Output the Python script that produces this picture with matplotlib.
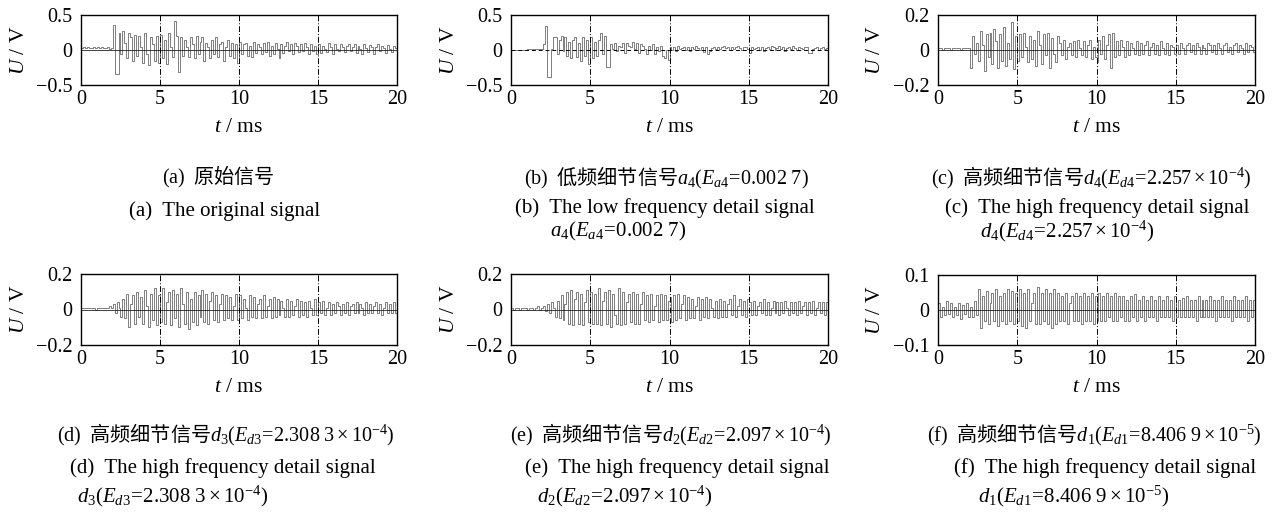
import numpy as np
import matplotlib
matplotlib.use("Agg")
import matplotlib.pyplot as plt

plt.rcParams["font.family"] = ["Liberation Serif", "Noto Sans CJK SC"]
plt.rcParams["mathtext.fontset"] = "custom"
plt.rcParams["mathtext.rm"] = "Liberation Serif"
plt.rcParams["mathtext.it"] = "Liberation Serif:italic"
plt.rcParams["axes.unicode_minus"] = True

# sampling step of the traces (ms)
step_ms = 0.125
x_ticks = [0, 5, 10, 15, 20]

# signal values in units of 0.01 V, one value per 0.125 ms (0..20 ms)
sig_a = [3, 4, 3, 4, 3, 3, 4, 3, 4, 3, 4, 3, 3, 4, 2, 3,
         36, -34, -34, 25, -5, 27, 10, -12, 25, 18, -15, 22, -8, 20, 5, -18, 24, -5, -22, 18, 8, -15, 20, -18,
         22, -12, 15, -20, 25, 5, -10, 42, 20, -32, 18, -8, 15, 5, -10, 18, 8, -12, 20, -6,
         12, 18, -15, 10, 5, -12, 15, -5, 18, -10, 8, 12, -15, 5, 15, -8, 10, -12, 8, -18,
         12, -5, 8, 10, -8, 6, -10, 12, -4, 8, 5, -6, 10, -3, 12, -8, 6, -5, 10, 2,
         -12, 8, -4, 6, 12, -2, 8, -5, 10, 6, -3, 8, -2, 10, 4, -5, 8, -2, 6, -5,
         8, -4, 6, 2, -3, 10, 4, -6, 8, 2, -2, 9, 5, -3, 6, 8, -2, 4, 9, -4,
         6, 2, -6, 8, 3, -3, 7, 5, -6, 4, 8, -2, 6, 3, -4, 7, 2, -3, 6, 3]
sig_b = [0, 0, 0, 0, 0, 0, 0, 0, 1, 1, 2, 2, 1, 1, 2, 2,
         8, 35, -38, -38, 2, 18, 18, -5, 15, 20, -2, 18, -8, 12, -12, 15, 18, -10, 10, -15, 18, -8, 15, -20,
         18, -12, 12, -8, 14, 24, -5, 20, -24, -24, 8, 2, 10, -2, 6, 4, 10, -4, 10, 6,
         4, 12, 2, 10, -4, 8, 6, 2, -6, 6, 0, 8, -6, 4, -2, 6, -8, -12, 0, -14,
         4, 0, 5, -2, 6, 2, 3, 5, 0, 4, -2, 4, 2, 6, 3, 0, 5, -3, 4, -5,
         -1, 3, 5, 1, 4, 2, 5, 6, 3, 4, 0, 5, 2, 4, 6, 3, 0, 4, 5, 2,
         -4, 4, 2, 3, 5, 0, 4, -2, 3, 5, 2, 6, 4, 0, 3, 6, 2, 4, -2, 3,
         5, 2, 6, 3, 0, 4, 3, 2, 4, 5, -4, -4, 2, 3, 4, 0, 3, 4, 2, 3]
sig_c = [1, 1, 0, 1, 1, 1, 0, 1, 1, 1, 1, 0, 1, 1, 1, 1,
         -10, 8, -2, 4, -6, 11, 3, -12, 9, -4, 10, -8, 12, 5, -10, 9, -6, 13, -9, 4, -5, 16, -11, 8,
         -6, 9, -4, 10, 2, -7, 8, -5, 6, -9, 11, 3, -8, 9, -3, 10, -10, 7, -2, -7,
         8, 4, -3, 6, -5, 2, 4, -3, 5, -4, 6, 1, -3, 5, -4, 3, 6, -5, 2, -4,
         -7, 6, -2, 8, -5, 3, 9, -10, 10, -4, 5, -3, 6, 2, -4, 5, -3, 4, 1, -2,
         5, -3, 4, -2, 3, 5, -3, 2, 4, -2, 3, -3, 5, 1, -2, 4, -3, 3, 2, -2,
         3, -2, 4, 1, -2, 3, 4, -1, 3, -2, 4, 2, -2, 3, 1, -2, 4, 3, -1, 3,
         -2, 4, 1, -2, 3, 4, -1, 2, -2, 3, 4, -1, 3, 1, -2, 4, -1, 3, 2, -1]
sig_d = [1, 1, 1, 1, 1, 1, 1, 0, 1, 1, 1, 1, 1, 1, 2, 1,
         3, -2, 4, 1, -4, 6, -5, 9, -10, 3, 8, -8, 10, -4, 7, -8, 11, 2, -10, 9, -6, 12, -9, 8,
         -7, 12, -8, 4, 10, -9, 11, -5, 9, -10, 12, 3, -8, 10, -11, 6, -7, 10, -9, 8,
         -4, 11, -7, 9, -8, 5, 10, -6, 8, -7, 3, 9, -6, 8, -5, 7, -6, 2, 9, -6,
         8, -5, 6, 1, -6, 8, -4, 7, -5, 3, 6, -5, 8, -4, 2, 6, -5, 7, -4, 6,
         -3, 5, 1, -4, 6, -4, 5, -3, 2, 6, -4, 5, -3, 4, -4, 5, 1, -3, 6, -3,
         4, -2, 5, -3, 1, 4, -3, 3, -2, 4, 2, -3, 3, -2, 4, -3, 2, 3, -2, 4,
         -2, 3, 1, -3, 4, -2, 3, -2, 2, 4, -2, 3, -3, 1, 4, -2, 3, -2, 4, -2]
sig_e = [1, 0, 1, 1, 0, 1, 1, 1, 0, 1, 1, 0, 1, 2, 0, 1,
         2, -1, 3, -2, 4, 1, -4, 5, -5, 8, -6, 3, 10, -8, 11, -9, 6, 10, -8, 9, -9, 4, 11, -7,
         10, -8, 9, -8, 12, -9, 5, 10, -8, 11, -10, 9, -3, -8, 12, -9, 10, -8, 4, 9,
         -7, 10, -8, 9, -8, 3, 10, -6, 8, -7, 9, -6, 2, 8, -7, 9, -6, 8, -6, 5,
         7, -7, 8, -6, 9, -5, 3, 8, -6, 7, -5, 6, -5, 2, 7, -6, 6, -4, 7, -5,
         6, 1, -4, 5, -5, 6, -4, 5, -4, 3, 6, -3, 8, -4, 2, 6, -3, 5, -4, 6,
         4, -3, 5, -3, 2, 4, -2, 6, -3, 4, -3, 1, 5, -2, 4, -3, 4, -2, 5, 1,
         -3, 4, -2, 4, -3, 5, -2, 2, 4, -3, 4, -2, 5, -3, 1, 4, -2, 4, -3, 4]
sig_f = [2, -2, 1, -1.5, 2.5, -1, 2, -2, 1, -1.5, 2, -2.5, 1.5, -1, 2, -2, 1, -2, 2.5, -1.5,
         6, -5, 4, -3, 5.5, -4, 2, 5, -3, 6, -4.5, 4, -3, 5, -4, 6, -3, 5.5, -4, 5,
         -3, 6, -4.5, 5, -5, 6, -3, 2, 5, -4, 6.5, -4, 5, -3, 6, -4, 5, -5, 6, -4,
         5, -3, 4, -3, 5, -4, 2, 4, -3, 5, -3, 4, -4, 5, -3, 4, -3, 5, -4, 4,
         -3, 5, -3, 4, -3, 5, -2, 4, -3, 5, -3, 4, -2, 4, -3, 3, -3, 4, -2, 4.5,
         -3, 3, -2, 4, -3, 3, -2, 4, -2, 3, -3, 4, -2, 3, -2, 4, -2, 3, -3, 4,
         -2, 3, -2, 3.5, -2, 4, -2, 3, -2, 3, -3, 4, -2, 3, -2, 3, -2, 4, -2, 3,
         -3, 3, -2, 4, -2, 3, -2, 3, -3, 4, -2, 3, -2, 3, -2, 4, -3, 3, -2, 3]

signals = [sig_a, sig_b, sig_c, sig_d, sig_e, sig_f]
y_limits = [0.5, 0.5, 0.2, 0.2, 0.2, 0.1]
y_tick_text = [["\u22120.5", "0", "0.5"], ["\u22120.5", "0", "0.5"], ["\u22120.2", "0", "0.2"],
               ["\u22120.2", "0", "0.2"], ["\u22120.2", "0", "0.2"], ["\u22120.1", "0", "0.1"]]

cn_captions = [
    r"$\mathrm{(a)}$  原始信号",
    r"$\mathrm{(b)}$  低频细节信号$a_4(E_{a4}\!=\!0.002\ 7)$",
    r"$\mathrm{(c)}$  高频细节信号$d_4(E_{d4}\!=\!2.257\times10^{-4})$",
    r"$\mathrm{(d)}$  高频细节信号$d_3(E_{d3}\!=\!2.308\ 3\times10^{-4})$",
    r"$\mathrm{(e)}$  高频细节信号$d_2(E_{d2}\!=\!2.097\times10^{-4})$",
    r"$\mathrm{(f)}$  高频细节信号$d_1(E_{d1}\!=\!8.406\ 9\times10^{-5})$",
]
en_line1 = [
    "(a)  The original signal",
    "(b)  The low frequency detail signal",
    "(c)  The high frequency detail signal",
    "(d)  The high frequency detail signal",
    "(e)  The high frequency detail signal",
    "(f)  The high frequency detail signal",
]
en_line2 = [
    "",
    r"$a_4(E_{a4}\!=\!0.002\ 7)$",
    r"$d_4(E_{d4}\!=\!2.257\times10^{-4})$",
    r"$d_3(E_{d3}\!=\!2.308\ 3\times10^{-4})$",
    r"$d_2(E_{d2}\!=\!2.097\times10^{-4})$",
    r"$d_1(E_{d1}\!=\!8.406\ 9\times10^{-5})$",
]

W, H = 1279, 512
fig = plt.figure(figsize=(W / 100, H / 100), dpi=100)

# axes boxes in pixels: left, top, right, bottom
boxes = [(81, 15, 397, 85), (511, 15, 828, 85), (938, 15, 1255, 85),
         (81, 274, 397, 345), (511, 274, 828, 345), (938, 275, 1255, 345)]
cn_pos = [(218, 177), (666, 178), (1091, 178), (226, 435), (671, 435), (1094, 435)]
en1_pos = [(225, 211), (665, 208), (1097, 208), (223, 468), (677, 468), (1105, 468)]
en2_pos = [(0, 0), (550, 231), (980, 231), (77, 496), (537, 496), (978, 496)]


def fx(px):
    return px / W


def fy(py):
    return 1 - py / H


for i, sig in enumerate(signals):
    l, t, r, b = boxes[i]
    ax = fig.add_axes([fx(l), fy(b), (r - l) / W, (b - t) / H])
    vals = np.array(sig) / 100.0
    tt = np.arange(len(vals)) * step_ms
    tt = np.append(tt, 20.0)
    vals = np.append(vals, vals[-1])
    ax.plot(tt, vals, drawstyle="steps-post", color="#6a6a6a", lw=0.6)
    if i == 1:
        ax.axhline(0, color="k", lw=0.7, ls=(0, (4, 3)))
    else:
        ax.axhline(0, color="#222222", lw=0.6)
    for xv in [5, 10, 15]:
        ax.axvline(xv, color="k", lw=0.7, ls=(0, (6, 2, 1, 2)))
    ax.set_xlim(0, 20)
    ax.set_ylim(-y_limits[i], y_limits[i])
    ax.set_xticks(x_ticks)
    ax.set_xticklabels([str(v) for v in x_ticks])
    ax.set_yticks([-y_limits[i], 0, y_limits[i]])
    ax.set_yticklabels(y_tick_text[i])
    ax.tick_params(direction="in", length=0, labelsize=14.5)
    ax.tick_params(axis="x", pad=3.5)
    ax.tick_params(axis="y", pad=6)
    for sp in ax.spines.values():
        sp.set_linewidth(1.0)

    fig.text(fx(l - 62), fy((t + b) / 2), r"$U$ / V", rotation=90,
             ha="center", va="center", fontsize=15.5)
    fig.text(fx((l + r) / 2), fy(b + 43), r"$t$ / ms", ha="center",
             va="center", fontsize=15.5)

    fig.text(fx(cn_pos[i][0]), fy(cn_pos[i][1]), cn_captions[i], ha="center",
             va="center", fontsize=14.5, family="Noto Sans CJK SC")
    fig.text(fx(en1_pos[i][0]), fy(en1_pos[i][1]), en_line1[i], ha="center",
             va="center", fontsize=15)
    if en_line2[i]:
        fig.text(fx(en2_pos[i][0]), fy(en2_pos[i][1]), en_line2[i], ha="left",
                 va="center", fontsize=15)

fig.savefig("out.png", dpi=100)
